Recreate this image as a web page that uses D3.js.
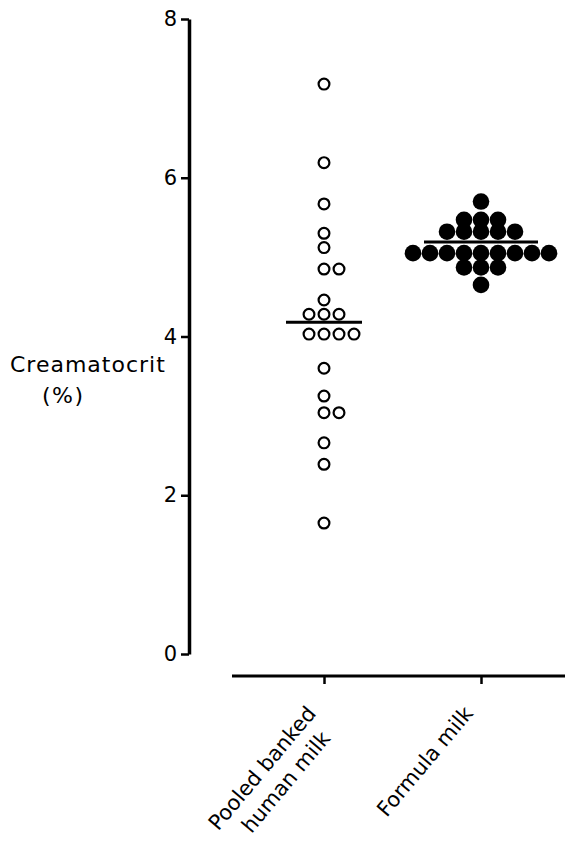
<!DOCTYPE html>
<html>
<head>
<meta charset="utf-8">
<script src="https://cdn.jsdelivr.net/npm/d3@7"></script>
<style>
  body { margin: 0; background: #fff; }
  svg text { font-family: "DejaVu Sans", sans-serif; fill: #000; }
</style>
</head>
<body>
<div id="chart"></div>
<script>
// categories and values
var groups = ["Pooled banked human milk", "Formula milk"];
var pooledValues = [7.18, 6.19, 5.67, 5.30, 5.12, 4.85, 4.85, 4.46, 4.28, 4.28, 4.28,
    4.03, 4.03, 4.03, 4.03, 3.60, 3.25, 3.04, 3.04, 2.66, 2.39, 1.65];
var formulaValues = [5.70, 5.47, 5.47, 5.47, 5.32, 5.32, 5.32, 5.32, 5.32,
    5.05, 5.05, 5.05, 5.05, 5.05, 5.05, 5.05, 5.05, 5.05, 4.87, 4.87, 4.87, 4.65];
var medians = [4.18, 5.19];
var yTicks = [0, 2, 4, 6, 8];

var width = 565, height = 841;

var svg = d3.select("#chart").append("svg")
    .attr("width", width)
    .attr("height", height);

// set the ranges
var y = d3.scaleLinear()
    .domain([0, 8])
    .range([654, 19]);
var x = d3.scalePoint()
    .domain(groups)
    .range([324, 481]);

// y axis
var yAxis = svg.append("g")
    .attr("transform", "translate(189,0)")
    .call(d3.axisLeft(y).tickValues(yTicks).tickSize(8).tickSizeOuter(0).tickPadding(4));
yAxis.select(".domain").attr("stroke-width", 3.5);
yAxis.selectAll(".tick line").attr("stroke-width", 2.5);
yAxis.selectAll(".tick text")
    .style("font-size", "21px")
    .style("font-family", '"DejaVu Sans", sans-serif')
    .attr("fill", "#000");

// x axis: baseline runs wider than the two category ticks
var xAxis = svg.append("g")
    .attr("transform", "translate(0,676)")
    .call(d3.axisBottom(x).tickSize(8).tickSizeOuter(0).tickFormat(""));
xAxis.select(".domain").remove();
xAxis.selectAll(".tick line").attr("stroke-width", 2.5);
xAxis.append("line")
    .attr("x1", 232)
    .attr("x2", width)
    .attr("stroke", "#000")
    .attr("stroke-width", 3);

// rotated category labels
var labelLines = [["Pooled banked", "human  milk"], ["Formula milk"]];
groups.forEach(function (g, i) {
    var t = svg.append("text")
        .attr("transform", "translate(" + (x(g) - 7) + ",714) rotate(-50)")
        .attr("text-anchor", "end")
        .style("font-size", "21px");
    labelLines[i].forEach(function (line, j) {
        t.append("tspan")
            .attr("x", j === 0 ? 0 : -10)
            .attr("dy", j === 0 ? 0 : 27)
            .text(line);
    });
});

// y label
svg.append("text")
    .attr("x", 10)
    .attr("y", 372)
    .style("font-size", "22px")
    .style("letter-spacing", "1px")
    .text("Creamatocrit");
svg.append("text")
    .attr("x", 42)
    .attr("y", 403)
    .style("font-size", "22px")
    .style("letter-spacing", "1.5px")
    .text("(%)");

// spread equal values sideways: centre, right, left, right, left ...
function spread(values, gap) {
    var seen = {};
    return values.map(function (v) {
        var k = seen[v] || 0;
        seen[v] = k + 1;
        var slot = k === 0 ? 0 : (k % 2 ? 1 : -1) * Math.ceil(k / 2);
        return { value: v, dx: slot * gap };
    });
}

// medians
var medianHalf = [38, 57];
svg.selectAll(".median")
    .data(medians)
    .enter().append("line")
    .attr("class", "median")
    .attr("x1", function (d, i) { return x(groups[i]) - medianHalf[i]; })
    .attr("x2", function (d, i) { return x(groups[i]) + medianHalf[i]; })
    .attr("y1", function (d) { return y(d); })
    .attr("y2", function (d) { return y(d); })
    .attr("stroke", "#000")
    .attr("stroke-width", 3);

// open circles
svg.selectAll(".pooled")
    .data(spread(pooledValues, 15))
    .enter().append("circle")
    .attr("class", "pooled")
    .attr("cx", function (d) { return x(groups[0]) + d.dx; })
    .attr("cy", function (d) { return y(d.value); })
    .attr("r", 5.4)
    .attr("fill", "#fff")
    .attr("stroke", "#000")
    .attr("stroke-width", 2.2);

// filled circles
svg.selectAll(".formula")
    .data(spread(formulaValues, 17))
    .enter().append("circle")
    .attr("class", "formula")
    .attr("cx", function (d) { return x(groups[1]) + d.dx; })
    .attr("cy", function (d) { return y(d.value); })
    .attr("r", 8.3)
    .attr("fill", "#000");
</script>
</body>
</html>
